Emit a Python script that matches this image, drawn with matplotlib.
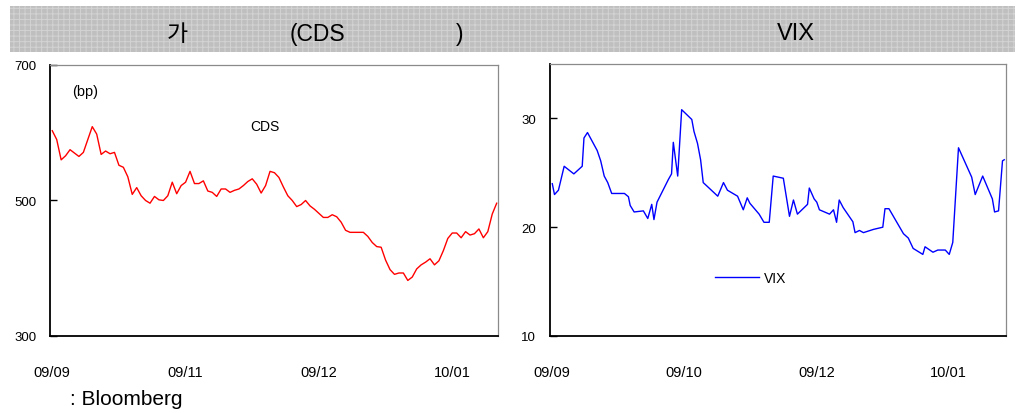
import matplotlib

matplotlib.use("Agg")
import matplotlib.pyplot as plt
from matplotlib.patches import Rectangle

# CDS, daily observations (bp), Sep 2009 - mid Jan 2010
cds_values = [
    603, 590, 560, 566, 575, 570, 565, 571, 590, 609,
    598, 568, 573, 569, 571, 552, 549, 535, 509, 519,
    507, 500, 496, 506, 501, 500, 507, 527, 510, 522,
    527, 543, 525, 525, 529, 514, 512, 506, 517, 517,
    512, 515, 517, 522, 528, 532, 524, 511, 522, 543,
    541, 534, 520, 507, 500, 491, 494, 500, 492, 487,
    481, 475, 475, 479, 476, 468, 456, 453, 453, 453,
    453, 447, 438, 432, 431, 412, 398, 391, 393, 393,
    382, 387, 399, 405, 409, 414, 405, 411, 426, 444,
    452, 452, 445, 454, 449, 451, 458, 445, 454, 480,
    496,
]
cds_ticks = [0, 30, 60, 90]
cds_tick_labels = ["09/09", "09/11", "09/12", "10/01"]
cds_yticks = [300, 500, 700]

# VIX, observation position on the same day scale
vix_pos = [
    0.0, 0.5, 1.4, 2.7, 4.9, 6.8, 7.2, 8.0, 10.2, 11.0,
    11.8, 12.6, 13.5, 16.4, 17.3, 17.7, 18.6, 20.7, 21.7, 22.6,
    23.1, 23.8, 26.4, 27.1, 27.5, 28.5, 29.4, 31.7, 32.2, 33.0,
    33.7, 34.3, 37.6, 38.9, 39.8, 42.1, 43.4, 44.3, 44.9, 47.0,
    48.1, 49.3, 50.2, 52.5, 53.9, 54.8, 55.7, 58.0, 58.4, 59.5,
    60.1, 60.7, 63.0, 63.9, 64.6, 65.2, 66.1, 68.3, 68.8, 69.8,
    70.7, 73.0, 75.1, 75.6, 76.5, 79.8, 80.9, 82.0, 84.2, 84.7,
    86.5, 87.6, 89.3, 90.2, 91.0, 92.3, 95.3, 96.1, 97.8, 100.0,
    100.5, 101.4, 102.3, 102.7,
]
vix_values = [
    24.0, 23.0, 23.4, 25.6, 24.9, 25.6, 28.2, 28.7, 27.05, 26.1,
    24.7, 24.1, 23.1, 23.1, 22.8, 22.0, 21.4, 21.5, 20.8, 22.1,
    20.7, 22.3, 24.4, 24.9, 27.8, 24.7, 30.8, 29.9, 28.8, 27.7,
    26.2, 24.1, 22.85, 24.1, 23.4, 22.85, 21.6, 22.7, 22.2, 21.2,
    20.45, 20.45, 24.7, 24.5, 21.0, 22.5, 21.2, 22.1, 23.6, 22.6,
    22.3, 21.6, 21.2, 21.6, 20.45, 22.5, 21.8, 20.5, 19.5, 19.7,
    19.5, 19.8, 20.0, 21.7, 21.7, 19.4, 19.0, 18.05, 17.5, 18.2,
    17.7, 17.9, 17.9, 17.5, 18.6, 27.3, 24.6, 23.0, 24.7, 22.6,
    21.4, 21.5, 26.1, 26.2,
]
vix_ticks = [0, 30, 60, 90]
vix_tick_labels = ["09/09", "09/10", "09/12", "10/01"]
vix_yticks = [10, 20, 30]

FONT = ["Liberation Sans", "DejaVu Sans"]
TITLE_FONT = ["Liberation Sans", "Noto Sans CJK KR", "DejaVu Sans"]


def style_axis(ax):
    for side in ("left", "bottom"):
        ax.spines[side].set_color("black")
        ax.spines[side].set_linewidth(1.3)
    for side in ("top", "right"):
        ax.spines[side].set_color("#8a8a8a")
        ax.spines[side].set_linewidth(0.9)
    ax.tick_params(axis="y", direction="in", length=5, width=1.0, pad=10, labelsize=9.5)
    ax.tick_params(axis="x", length=0, pad=21, labelsize=10.5)


def main():
    plt.rcParams["font.family"] = FONT
    plt.rcParams["hatch.linewidth"] = 0.7
    fig = plt.figure(figsize=(10.17, 4.14), dpi=100)

    band = Rectangle(
        (0.0098, 0.872), 0.988, 0.111,
        transform=fig.transFigure,
        facecolor="#bfbfbf",
        edgecolor="#d3d3d3",
        linewidth=0,
        hatch="+++",
    )
    fig.patches.append(band)
    fig.text(0.174, 0.917, "가", ha="center", va="center", fontsize=16.5, family=TITLE_FONT)
    fig.text(0.3125, 0.917, "(CDS", ha="center", va="center", fontsize=16.5, family=TITLE_FONT)
    fig.text(0.4515, 0.917, ")", ha="center", va="center", fontsize=16.5, family=TITLE_FONT)
    fig.text(0.783, 0.917, "VIX", ha="center", va="center", fontsize=17, family=TITLE_FONT)

    # left panel: CDS
    ax1 = fig.add_axes((0.0492, 0.186, 0.4405, 0.6546))
    ax1.plot(range(len(cds_values)), cds_values, color="#ff0000", linewidth=1.0)
    ax1.set_xlim(-0.5, 100.3)
    ax1.set_ylim(300, 700)
    ax1.set_yticks(cds_yticks)
    ax1.set_xticks(cds_ticks)
    ax1.set_xticklabels(cds_tick_labels)
    style_axis(ax1)
    ax1.text(0.078, 0.904, "(bp)", transform=ax1.transAxes, ha="center", va="center", fontsize=10.5)
    ax1.text(0.479, 0.775, "CDS", transform=ax1.transAxes, ha="center", va="center", fontsize=10)

    # right panel: VIX
    ax2 = fig.add_axes((0.5408, 0.186, 0.4484, 0.657))
    ax2.plot(vix_pos, vix_values, color="#0000ff", linewidth=1.0, label="VIX")
    ax2.set_xlim(-0.52, 103.1)
    ax2.set_ylim(10, 35)
    ax2.set_yticks(vix_yticks)
    ax2.set_xticks(vix_ticks)
    ax2.set_xticklabels(vix_tick_labels)
    style_axis(ax2)
    ax2.legend(
        loc="center",
        bbox_to_anchor=(0.44, 0.215),
        frameon=False,
        fontsize=10,
        handlelength=3.2,
        handletextpad=0.35,
    )

    fig.text(0.0688, 0.036, ": Bloomberg", ha="left", va="center", fontsize=15)

    fig.savefig("out.png", dpi=100)
    plt.close(fig)


if __name__ == "__main__":
    main()
